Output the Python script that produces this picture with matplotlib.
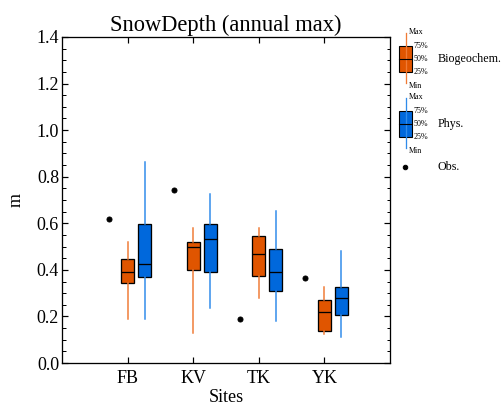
import matplotlib.pyplot as plt
from matplotlib.patches import Rectangle
from matplotlib.ticker import MultipleLocator

plt.rcParams['font.family'] = ['Liberation Serif', 'DejaVu Serif']

# Sites and values (m)
sites = ['FB', 'KV', 'TK', 'YK']
obs = [0.618, 0.742, 0.189, 0.365]

bgc_min = [0.19, 0.13, 0.28, 0.123]
bgc_q1 = [0.342, 0.398, 0.375, 0.137]
bgc_med = [0.389, 0.50, 0.467, 0.219]
bgc_q3 = [0.445, 0.521, 0.544, 0.27]
bgc_max = [0.52, 0.581, 0.578, 0.325]

phys_min = [0.189, 0.235, 0.18, 0.112]
phys_q1 = [0.369, 0.389, 0.308, 0.206]
phys_med = [0.424, 0.533, 0.389, 0.278]
phys_q3 = [0.595, 0.595, 0.491, 0.326]
phys_max = [0.864, 0.724, 0.651, 0.479]

orange_box = '#E05500'
orange_wh = '#F07A35'
blue_box = '#0068DC'
blue_wh = '#2F8BEA'


def make_stats(mn, q1, med, q3, mx):
    return [dict(whislo=a, q1=b, med=c, q3=d, whishi=e, fliers=[])
            for a, b, c, d, e in zip(mn, q1, med, q3, mx)]


fig = plt.figure(figsize=(7.0, 408 / 72), dpi=72)
ax = fig.add_axes([62 / 504, 45 / 408, 328 / 504, 326 / 408])

pos = [1, 2, 3, 4]
for stats, off, fc, wc in [
        (make_stats(bgc_min, bgc_q1, bgc_med, bgc_q3, bgc_max), 0.0, orange_box, orange_wh),
        (make_stats(phys_min, phys_q1, phys_med, phys_q3, phys_max), 0.26, blue_box, blue_wh)]:
    ax.bxp(stats, positions=[p + off for p in pos], widths=0.2, patch_artist=True,
           showcaps=False, showfliers=False,
           boxprops=dict(facecolor=fc, edgecolor='black', linewidth=1.3),
           medianprops=dict(color='black', linewidth=1.3),
           whiskerprops=dict(color=wc, linewidth=1.5), manage_ticks=False)

ax.plot([p - 0.29 for p in pos], obs, 'o', color='black', markersize=5, zorder=5)

ax.set_xlim(0, 5)
ax.set_ylim(0, 1.4)
ax.set_xticks(pos)
ax.set_xticklabels(sites)
ax.yaxis.set_major_locator(MultipleLocator(0.2))
ax.yaxis.set_minor_locator(MultipleLocator(0.05))
ax.yaxis.set_major_formatter(plt.FormatStrFormatter('%.1f'))
ax.tick_params(which='both', direction='in', top=True, right=True, labelsize=18)
ax.tick_params(which='major', length=6, width=1.2)
ax.tick_params(which='minor', length=3.5, width=1.0)
ax.tick_params(axis='y', pad=3)
ax.tick_params(axis='x', pad=7)
for s in ax.spines.values():
    s.set_linewidth(1.3)

ax.set_title('SnowDepth (annual max)', fontsize=22.5, pad=6)
ax.set_xlabel('Sites', fontsize=18, labelpad=2)
ax.set_ylabel('m', fontsize=18, labelpad=12)

# Legend drawn in a pixel-coordinate axes on the right
lg = fig.add_axes([395 / 504, 230 / 408, 109 / 504, 148 / 408])
lg.set_xlim(395, 504)
lg.set_ylim(178, 30)
lg.axis('off')

for top, fc, wc, label in [(33, orange_box, orange_wh, 'Biogeochem.'),
                           (98, blue_box, blue_wh, 'Phys.')]:
    lg.plot([405.5, 405.5], [top, top + 50], color=wc, lw=1.3)
    lg.add_patch(Rectangle((399, top + 13), 13, 26, facecolor=fc, edgecolor='black', lw=1.1))
    lg.plot([399, 412], [top + 26, top + 26], color='black', lw=1.1)
    lg.text(409, top - 1, 'Max', fontsize=8, va='center')
    lg.text(413.5, top + 13, '75%', fontsize=8, va='center')
    lg.text(413.5, top + 26, '50%', fontsize=8, va='center')
    lg.text(413.5, top + 39, '25%', fontsize=8, va='center')
    lg.text(409, top + 53, 'Min', fontsize=8, va='center')
    lg.text(438, top + 26, label, fontsize=12, va='center')

lg.plot([405], [167], 'o', color='black', markersize=4.5)
lg.text(438, 167, 'Obs.', fontsize=12, va='center')

fig.savefig('out.png', dpi=72)
